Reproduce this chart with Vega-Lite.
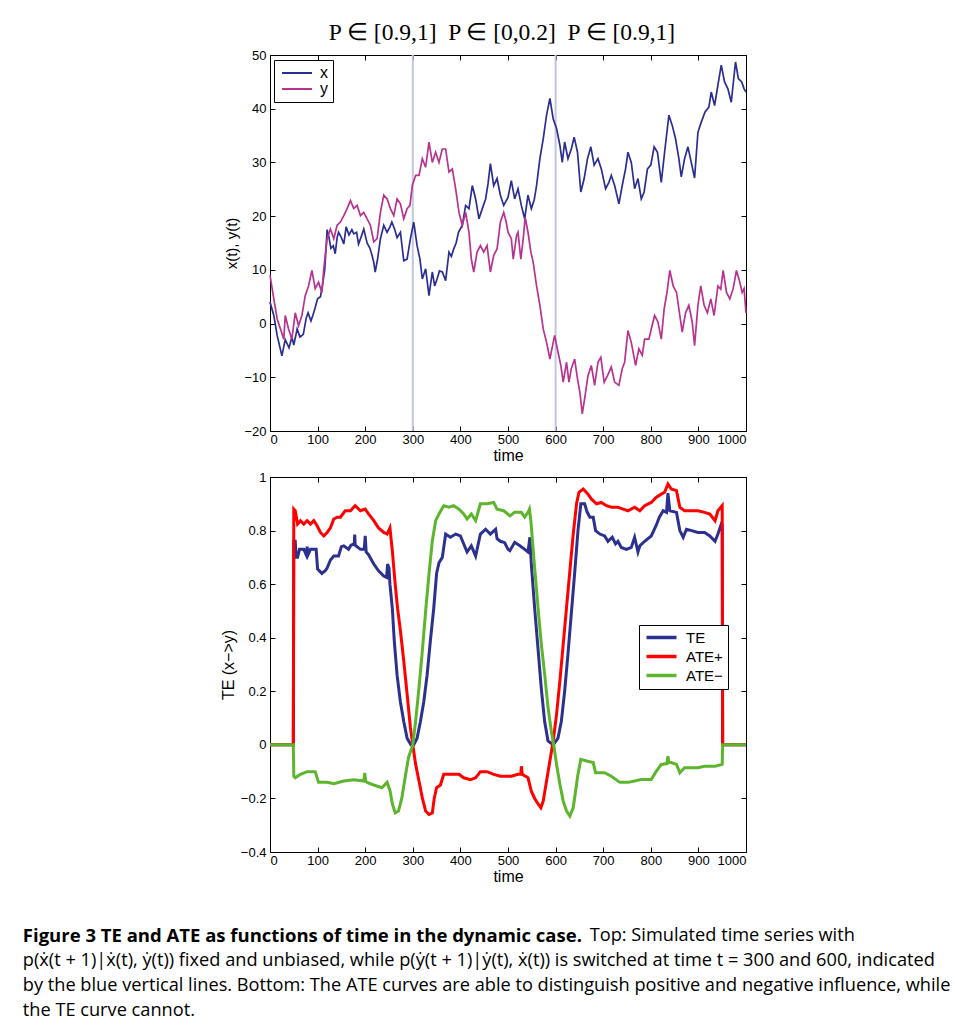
{
  "$schema": "https://vega.github.io/schema/vega-lite/v6.json",
  "background": "white",
  "padding": {"left": 22, "top": 20, "right": 5, "bottom": 5},
  "config": {
    "view": {"stroke": "black", "strokeWidth": 1},
    "axis": {
      "grid": false, "domain": false,
      "tickColor": "black", "tickSize": -5, "tickWidth": 1,
      "labelColor": "black", "labelFont": "Liberation Sans", "labelFontSize": 13, "labelPadding": 9,
      "titleFont": "Liberation Sans", "titleFontWeight": "normal", "titleColor": "black", "titleFontSize": 16
    },
    "legend": {
      "orient": "none", "title": null, "strokeColor": "black", "fillColor": "white",
      "symbolType": "M-1,0H5", "symbolSize": 100, "labelOffset": 24, "rowPadding": 0,
      "labelFont": "Liberation Sans", "labelColor": "black", "labelFontSize": 16
    }
  },
  "resolve": {"scale": {"color": "independent"}, "legend": {"color": "independent"}},
  "datasets": {
    "switches": [{"time": 300}, {"time": 600}],
    "walk": [
      {"time":0,"series":"x","value":4},{"time":8,"series":"x","value":1.5},{"time":15,"series":"x","value":-2.2},{"time":25,"series":"x","value":-6},{"time":32,"series":"x","value":-3},{"time":40,"series":"x","value":-4.5},{"time":46,"series":"x","value":-2.5},{"time":50,"series":"x","value":-4},{"time":57,"series":"x","value":-1},{"time":63,"series":"x","value":-2.5},{"time":70,"series":"x","value":-2},{"time":76,"series":"x","value":1},{"time":80,"series":"x","value":2},{"time":86,"series":"x","value":0.5},{"time":90,"series":"x","value":1.5},{"time":95,"series":"x","value":3},{"time":100,"series":"x","value":4.6},{"time":106,"series":"x","value":5},{"time":110,"series":"x","value":7},{"time":115,"series":"x","value":10},{"time":120,"series":"x","value":17.5},{"time":124,"series":"x","value":16},{"time":128,"series":"x","value":14},{"time":133,"series":"x","value":14.5},{"time":137,"series":"x","value":13},{"time":141,"series":"x","value":16},{"time":144,"series":"x","value":17},{"time":150,"series":"x","value":16},{"time":155,"series":"x","value":14.8},{"time":160,"series":"x","value":18},{"time":166,"series":"x","value":16.5},{"time":172,"series":"x","value":17.5},{"time":176,"series":"x","value":16.7},{"time":182,"series":"x","value":17},{"time":186,"series":"x","value":14.8},{"time":191,"series":"x","value":16},{"time":197,"series":"x","value":17.6},{"time":204,"series":"x","value":15},{"time":210,"series":"x","value":14},{"time":215,"series":"x","value":12.5},{"time":218,"series":"x","value":11.4},{"time":221,"series":"x","value":9.6},{"time":226,"series":"x","value":12},{"time":232,"series":"x","value":15.8},{"time":239,"series":"x","value":18.3},{"time":246,"series":"x","value":17},{"time":252,"series":"x","value":18},{"time":256,"series":"x","value":18.9},{"time":262,"series":"x","value":17.5},{"time":267,"series":"x","value":16},{"time":274,"series":"x","value":17},{"time":281,"series":"x","value":11.7},{"time":288,"series":"x","value":12},{"time":295,"series":"x","value":15.8},{"time":302,"series":"x","value":18.9},{"time":309,"series":"x","value":14.5},{"time":315,"series":"x","value":12},{"time":320,"series":"x","value":8.3},{"time":327,"series":"x","value":10.2},{"time":334,"series":"x","value":5.2},{"time":341,"series":"x","value":9.6},{"time":346,"series":"x","value":7},{"time":351,"series":"x","value":8.3},{"time":356,"series":"x","value":9.8},{"time":362,"series":"x","value":9.6},{"time":369,"series":"x","value":8},{"time":376,"series":"x","value":13.3},{"time":381,"series":"x","value":12.5},{"time":386,"series":"x","value":13.9},{"time":391,"series":"x","value":15},{"time":396,"series":"x","value":17},{"time":404,"series":"x","value":18.3},{"time":411,"series":"x","value":22},{"time":418,"series":"x","value":21.4},{"time":425,"series":"x","value":25.7},{"time":432,"series":"x","value":23.2},{"time":439,"series":"x","value":19.5},{"time":446,"series":"x","value":21.4},{"time":453,"series":"x","value":23.2},{"time":458,"series":"x","value":26},{"time":463,"series":"x","value":29.8},{"time":470,"series":"x","value":25.7},{"time":477,"series":"x","value":27},{"time":484,"series":"x","value":23.9},{"time":491,"series":"x","value":22},{"time":500,"series":"x","value":23.5},{"time":507,"series":"x","value":26.6},{"time":514,"series":"x","value":23.2},{"time":521,"series":"x","value":25.1},{"time":528,"series":"x","value":22},{"time":535,"series":"x","value":19.5},{"time":542,"series":"x","value":23.9},{"time":549,"series":"x","value":21.4},{"time":555,"series":"x","value":23},{"time":560,"series":"x","value":25.7},{"time":567,"series":"x","value":30.7},{"time":574,"series":"x","value":34.4},{"time":581,"series":"x","value":38.8},{"time":588,"series":"x","value":41.9},{"time":595,"series":"x","value":38.1},{"time":602,"series":"x","value":36.3},{"time":609,"series":"x","value":33.2},{"time":614,"series":"x","value":30},{"time":619,"series":"x","value":33.8},{"time":626,"series":"x","value":30.7},{"time":633,"series":"x","value":32.5},{"time":639,"series":"x","value":34.7},{"time":646,"series":"x","value":31.9},{"time":653,"series":"x","value":24.5},{"time":660,"series":"x","value":27},{"time":667,"series":"x","value":30.7},{"time":674,"series":"x","value":32.9},{"time":681,"series":"x","value":29.5},{"time":689,"series":"x","value":30.7},{"time":696,"series":"x","value":28.8},{"time":705,"series":"x","value":25.1},{"time":712,"series":"x","value":26.3},{"time":717,"series":"x","value":27.6},{"time":724,"series":"x","value":25.7},{"time":733,"series":"x","value":22.3},{"time":740,"series":"x","value":25.7},{"time":747,"series":"x","value":28.8},{"time":752,"series":"x","value":31.9},{"time":759,"series":"x","value":30},{"time":766,"series":"x","value":25.1},{"time":773,"series":"x","value":27},{"time":780,"series":"x","value":23.2},{"time":786,"series":"x","value":24.5},{"time":793,"series":"x","value":28.8},{"time":800,"series":"x","value":29.5},{"time":807,"series":"x","value":32.9},{"time":814,"series":"x","value":31.9},{"time":822,"series":"x","value":26.3},{"time":829,"series":"x","value":31.9},{"time":838,"series":"x","value":38.8},{"time":845,"series":"x","value":36.9},{"time":852,"series":"x","value":34.4},{"time":859,"series":"x","value":30.7},{"time":864,"series":"x","value":27.3},{"time":871,"series":"x","value":30.7},{"time":878,"series":"x","value":32.9},{"time":885,"series":"x","value":30},{"time":892,"series":"x","value":27.1},{"time":899,"series":"x","value":35.6},{"time":906,"series":"x","value":37.5},{"time":914,"series":"x","value":39.4},{"time":922,"series":"x","value":40.3},{"time":927,"series":"x","value":43.1},{"time":934,"series":"x","value":40.6},{"time":941,"series":"x","value":44.4},{"time":948,"series":"x","value":48.1},{"time":955,"series":"x","value":45},{"time":962,"series":"x","value":43.7},{"time":969,"series":"x","value":41.2},{"time":978,"series":"x","value":48.7},{"time":984,"series":"x","value":45.6},{"time":991,"series":"x","value":45},{"time":996,"series":"x","value":43.7},{"time":1000,"series":"x","value":43.1},
      {"time":0,"series":"y","value":9},{"time":8,"series":"y","value":4.6},{"time":15,"series":"y","value":0.9},{"time":22,"series":"y","value":-1},{"time":29,"series":"y","value":-2.9},{"time":32,"series":"y","value":1.5},{"time":39,"series":"y","value":-1},{"time":46,"series":"y","value":-2.9},{"time":53,"series":"y","value":2},{"time":60,"series":"y","value":-0.4},{"time":67,"series":"y","value":1.5},{"time":74,"series":"y","value":5.2},{"time":81,"series":"y","value":7},{"time":88,"series":"y","value":9.9},{"time":95,"series":"y","value":6.5},{"time":102,"series":"y","value":7.7},{"time":109,"series":"y","value":5.8},{"time":113,"series":"y","value":10.2},{"time":120,"series":"y","value":15.8},{"time":127,"series":"y","value":17.6},{"time":134,"series":"y","value":15.8},{"time":141,"series":"y","value":18.3},{"time":148,"series":"y","value":18.9},{"time":155,"series":"y","value":20.1},{"time":162,"series":"y","value":21.4},{"time":169,"series":"y","value":22.9},{"time":176,"series":"y","value":21.4},{"time":183,"series":"y","value":22},{"time":190,"series":"y","value":20.1},{"time":197,"series":"y","value":20.7},{"time":204,"series":"y","value":19.5},{"time":211,"series":"y","value":18.3},{"time":218,"series":"y","value":15.2},{"time":225,"series":"y","value":15.8},{"time":232,"series":"y","value":20.7},{"time":239,"series":"y","value":23.9},{"time":246,"series":"y","value":23.2},{"time":253,"series":"y","value":21.4},{"time":260,"series":"y","value":20.1},{"time":267,"series":"y","value":23.2},{"time":274,"series":"y","value":22.3},{"time":281,"series":"y","value":19.5},{"time":288,"series":"y","value":21.4},{"time":294,"series":"y","value":22},{"time":299,"series":"y","value":25.7},{"time":306,"series":"y","value":27.6},{"time":313,"series":"y","value":27.6},{"time":320,"series":"y","value":30.7},{"time":327,"series":"y","value":29.1},{"time":334,"series":"y","value":33.8},{"time":341,"series":"y","value":30},{"time":348,"series":"y","value":31.9},{"time":355,"series":"y","value":30},{"time":362,"series":"y","value":32.5},{"time":369,"series":"y","value":32.5},{"time":376,"series":"y","value":28.2},{"time":383,"series":"y","value":28.8},{"time":390,"series":"y","value":25.1},{"time":397,"series":"y","value":20.7},{"time":404,"series":"y","value":18.3},{"time":411,"series":"y","value":20.7},{"time":418,"series":"y","value":17},{"time":423,"series":"y","value":12},{"time":428,"series":"y","value":9.6},{"time":435,"series":"y","value":13.3},{"time":442,"series":"y","value":14.5},{"time":449,"series":"y","value":13.3},{"time":456,"series":"y","value":14.5},{"time":463,"series":"y","value":9.6},{"time":470,"series":"y","value":12.7},{"time":477,"series":"y","value":13.9},{"time":484,"series":"y","value":18.9},{"time":491,"series":"y","value":20.7},{"time":496,"series":"y","value":19},{"time":500,"series":"y","value":17},{"time":507,"series":"y","value":15.8},{"time":511,"series":"y","value":12},{"time":518,"series":"y","value":16.4},{"time":521,"series":"y","value":17},{"time":527,"series":"y","value":12},{"time":532,"series":"y","value":15.8},{"time":536,"series":"y","value":19.8},{"time":542,"series":"y","value":17},{"time":548,"series":"y","value":13.3},{"time":553,"series":"y","value":11.4},{"time":560,"series":"y","value":7},{"time":567,"series":"y","value":3.4},{"time":574,"series":"y","value":-1},{"time":581,"series":"y","value":-3.5},{"time":588,"series":"y","value":-6.6},{"time":595,"series":"y","value":-3.5},{"time":598,"series":"y","value":-2.2},{"time":605,"series":"y","value":-5.3},{"time":611,"series":"y","value":-7.8},{"time":616,"series":"y","value":-10.9},{"time":623,"series":"y","value":-7.2},{"time":628,"series":"y","value":-10.9},{"time":633,"series":"y","value":-8.4},{"time":640,"series":"y","value":-6.6},{"time":646,"series":"y","value":-10.3},{"time":651,"series":"y","value":-12.8},{"time":656,"series":"y","value":-16.8},{"time":661,"series":"y","value":-14},{"time":668,"series":"y","value":-9.7},{"time":675,"series":"y","value":-7.8},{"time":682,"series":"y","value":-11.5},{"time":689,"series":"y","value":-7.2},{"time":695,"series":"y","value":-6.3},{"time":702,"series":"y","value":-10.9},{"time":709,"series":"y","value":-9.7},{"time":717,"series":"y","value":-8.1},{"time":724,"series":"y","value":-10.9},{"time":733,"series":"y","value":-11.5},{"time":740,"series":"y","value":-8.4},{"time":745,"series":"y","value":-7.2},{"time":752,"series":"y","value":-1.3},{"time":759,"series":"y","value":-3.5},{"time":768,"series":"y","value":-7.8},{"time":775,"series":"y","value":-4.7},{"time":782,"series":"y","value":-5.9},{"time":787,"series":"y","value":-2.9},{"time":796,"series":"y","value":-2.9},{"time":801,"series":"y","value":-1},{"time":808,"series":"y","value":1.5},{"time":815,"series":"y","value":0.3},{"time":822,"series":"y","value":-2.9},{"time":828,"series":"y","value":2.7},{"time":834,"series":"y","value":5.8},{"time":840,"series":"y","value":9.9},{"time":847,"series":"y","value":7},{"time":854,"series":"y","value":5.8},{"time":861,"series":"y","value":1.5},{"time":866,"series":"y","value":-1.6},{"time":873,"series":"y","value":2},{"time":880,"series":"y","value":3.4},{"time":887,"series":"y","value":0.3},{"time":892,"series":"y","value":-4.1},{"time":899,"series":"y","value":3.4},{"time":905,"series":"y","value":7},{"time":912,"series":"y","value":3.4},{"time":919,"series":"y","value":2},{"time":926,"series":"y","value":4.6},{"time":933,"series":"y","value":1.5},{"time":941,"series":"y","value":7},{"time":947,"series":"y","value":6.4},{"time":952,"series":"y","value":9.9},{"time":959,"series":"y","value":5.8},{"time":966,"series":"y","value":4.6},{"time":973,"series":"y","value":6.5},{"time":980,"series":"y","value":9.9},{"time":987,"series":"y","value":7.7},{"time":992,"series":"y","value":5.8},{"time":996,"series":"y","value":6.5},{"time":1000,"series":"y","value":2}
    ],
    "te": [
      {"time":0,"curve":"TE","value":0},{"time":49,"curve":"TE","value":0},{"time":50,"curve":"TE","value":0.76},{"time":53,"curve":"TE","value":0.76},{"time":55,"curve":"TE","value":0.7},{"time":58,"curve":"TE","value":0.7},{"time":62,"curve":"TE","value":0.73},{"time":71,"curve":"TE","value":0.73},{"time":76,"curve":"TE","value":0.71},{"time":78,"curve":"TE","value":0.74},{"time":80,"curve":"TE","value":0.71},{"time":85,"curve":"TE","value":0.73},{"time":97,"curve":"TE","value":0.73},{"time":100,"curve":"TE","value":0.656},{"time":109,"curve":"TE","value":0.64},{"time":116,"curve":"TE","value":0.65},{"time":120,"curve":"TE","value":0.66},{"time":127,"curve":"TE","value":0.69},{"time":134,"curve":"TE","value":0.705},{"time":144,"curve":"TE","value":0.705},{"time":150,"curve":"TE","value":0.74},{"time":155,"curve":"TE","value":0.743},{"time":165,"curve":"TE","value":0.73},{"time":170,"curve":"TE","value":0.745},{"time":177,"curve":"TE","value":0.75},{"time":178,"curve":"TE","value":0.785},{"time":179,"curve":"TE","value":0.745},{"time":190,"curve":"TE","value":0.73},{"time":198,"curve":"TE","value":0.73},{"time":200,"curve":"TE","value":0.78},{"time":202,"curve":"TE","value":0.72},{"time":207,"curve":"TE","value":0.71},{"time":218,"curve":"TE","value":0.675},{"time":228,"curve":"TE","value":0.65},{"time":239,"curve":"TE","value":0.63},{"time":245,"curve":"TE","value":0.625},{"time":247,"curve":"TE","value":0.675},{"time":250,"curve":"TE","value":0.66},{"time":252,"curve":"TE","value":0.6},{"time":257,"curve":"TE","value":0.51},{"time":261,"curve":"TE","value":0.39},{"time":267,"curve":"TE","value":0.26},{"time":274,"curve":"TE","value":0.16},{"time":281,"curve":"TE","value":0.087},{"time":288,"curve":"TE","value":0.025},{"time":296,"curve":"TE","value":0},{"time":302,"curve":"TE","value":0},{"time":309,"curve":"TE","value":0.025},{"time":316,"curve":"TE","value":0.087},{"time":323,"curve":"TE","value":0.16},{"time":330,"curve":"TE","value":0.26},{"time":337,"curve":"TE","value":0.39},{"time":344,"curve":"TE","value":0.51},{"time":350,"curve":"TE","value":0.64},{"time":355,"curve":"TE","value":0.68},{"time":362,"curve":"TE","value":0.7},{"time":369,"curve":"TE","value":0.787},{"time":379,"curve":"TE","value":0.775},{"time":390,"curve":"TE","value":0.787},{"time":400,"curve":"TE","value":0.78},{"time":407,"curve":"TE","value":0.75},{"time":414,"curve":"TE","value":0.72},{"time":423,"curve":"TE","value":0.743},{"time":432,"curve":"TE","value":0.705},{"time":442,"curve":"TE","value":0.787},{"time":453,"curve":"TE","value":0.805},{"time":463,"curve":"TE","value":0.787},{"time":474,"curve":"TE","value":0.805},{"time":477,"curve":"TE","value":0.77},{"time":484,"curve":"TE","value":0.76},{"time":493,"curve":"TE","value":0.755},{"time":500,"curve":"TE","value":0.73},{"time":504,"curve":"TE","value":0.725},{"time":514,"curve":"TE","value":0.756},{"time":525,"curve":"TE","value":0.743},{"time":535,"curve":"TE","value":0.73},{"time":542,"curve":"TE","value":0.72},{"time":546,"curve":"TE","value":0.775},{"time":549,"curve":"TE","value":0.675},{"time":556,"curve":"TE","value":0.51},{"time":563,"curve":"TE","value":0.36},{"time":570,"curve":"TE","value":0.21},{"time":577,"curve":"TE","value":0.087},{"time":584,"curve":"TE","value":0.015},{"time":595,"curve":"TE","value":0},{"time":605,"curve":"TE","value":0.025},{"time":612,"curve":"TE","value":0.087},{"time":619,"curve":"TE","value":0.2},{"time":626,"curve":"TE","value":0.34},{"time":633,"curve":"TE","value":0.49},{"time":640,"curve":"TE","value":0.64},{"time":647,"curve":"TE","value":0.8},{"time":653,"curve":"TE","value":0.9},{"time":661,"curve":"TE","value":0.9},{"time":666,"curve":"TE","value":0.87},{"time":672,"curve":"TE","value":0.85},{"time":679,"curve":"TE","value":0.85},{"time":684,"curve":"TE","value":0.8},{"time":693,"curve":"TE","value":0.787},{"time":703,"curve":"TE","value":0.78},{"time":710,"curve":"TE","value":0.76},{"time":719,"curve":"TE","value":0.775},{"time":726,"curve":"TE","value":0.75},{"time":731,"curve":"TE","value":0.76},{"time":738,"curve":"TE","value":0.737},{"time":749,"curve":"TE","value":0.73},{"time":759,"curve":"TE","value":0.737},{"time":766,"curve":"TE","value":0.775},{"time":773,"curve":"TE","value":0.72},{"time":777,"curve":"TE","value":0.743},{"time":787,"curve":"TE","value":0.76},{"time":801,"curve":"TE","value":0.78},{"time":811,"curve":"TE","value":0.818},{"time":818,"curve":"TE","value":0.85},{"time":826,"curve":"TE","value":0.874},{"time":833,"curve":"TE","value":0.868},{"time":836,"curve":"TE","value":0.94},{"time":840,"curve":"TE","value":0.874},{"time":854,"curve":"TE","value":0.868},{"time":861,"curve":"TE","value":0.8},{"time":868,"curve":"TE","value":0.775},{"time":875,"curve":"TE","value":0.805},{"time":886,"curve":"TE","value":0.8},{"time":899,"curve":"TE","value":0.793},{"time":913,"curve":"TE","value":0.793},{"time":924,"curve":"TE","value":0.78},{"time":935,"curve":"TE","value":0.76},{"time":941,"curve":"TE","value":0.787},{"time":948,"curve":"TE","value":0.824},{"time":950,"curve":"TE","value":0.82},{"time":951,"curve":"TE","value":0},{"time":1000,"curve":"TE","value":0},
      {"time":0,"curve":"ATE+","value":0},{"time":49,"curve":"ATE+","value":0},{"time":50,"curve":"ATE+","value":0.88},{"time":53,"curve":"ATE+","value":0.874},{"time":58,"curve":"ATE+","value":0.824},{"time":64,"curve":"ATE+","value":0.837},{"time":71,"curve":"ATE+","value":0.824},{"time":78,"curve":"ATE+","value":0.837},{"time":85,"curve":"ATE+","value":0.824},{"time":92,"curve":"ATE+","value":0.837},{"time":99,"curve":"ATE+","value":0.818},{"time":106,"curve":"ATE+","value":0.793},{"time":113,"curve":"ATE+","value":0.78},{"time":120,"curve":"ATE+","value":0.793},{"time":127,"curve":"ATE+","value":0.81},{"time":134,"curve":"ATE+","value":0.843},{"time":141,"curve":"ATE+","value":0.85},{"time":148,"curve":"ATE+","value":0.85},{"time":158,"curve":"ATE+","value":0.874},{"time":169,"curve":"ATE+","value":0.874},{"time":179,"curve":"ATE+","value":0.893},{"time":190,"curve":"ATE+","value":0.874},{"time":200,"curve":"ATE+","value":0.88},{"time":207,"curve":"ATE+","value":0.862},{"time":218,"curve":"ATE+","value":0.837},{"time":228,"curve":"ATE+","value":0.81},{"time":239,"curve":"ATE+","value":0.793},{"time":246,"curve":"ATE+","value":0.787},{"time":252,"curve":"ATE+","value":0.81},{"time":257,"curve":"ATE+","value":0.724},{"time":263,"curve":"ATE+","value":0.6},{"time":268,"curve":"ATE+","value":0.51},{"time":274,"curve":"ATE+","value":0.426},{"time":281,"curve":"ATE+","value":0.313},{"time":288,"curve":"ATE+","value":0.19},{"time":295,"curve":"ATE+","value":0.064},{"time":300,"curve":"ATE+","value":0},{"time":306,"curve":"ATE+","value":-0.073},{"time":313,"curve":"ATE+","value":-0.135},{"time":320,"curve":"ATE+","value":-0.198},{"time":327,"curve":"ATE+","value":-0.247},{"time":334,"curve":"ATE+","value":-0.26},{"time":341,"curve":"ATE+","value":-0.254},{"time":345,"curve":"ATE+","value":-0.2},{"time":350,"curve":"ATE+","value":-0.16},{"time":358,"curve":"ATE+","value":-0.15},{"time":365,"curve":"ATE+","value":-0.11},{"time":376,"curve":"ATE+","value":-0.11},{"time":397,"curve":"ATE+","value":-0.11},{"time":407,"curve":"ATE+","value":-0.123},{"time":421,"curve":"ATE+","value":-0.13},{"time":432,"curve":"ATE+","value":-0.123},{"time":442,"curve":"ATE+","value":-0.1},{"time":456,"curve":"ATE+","value":-0.1},{"time":470,"curve":"ATE+","value":-0.11},{"time":484,"curve":"ATE+","value":-0.117},{"time":507,"curve":"ATE+","value":-0.117},{"time":521,"curve":"ATE+","value":-0.11},{"time":527,"curve":"ATE+","value":-0.11},{"time":528,"curve":"ATE+","value":-0.08},{"time":530,"curve":"ATE+","value":-0.11},{"time":542,"curve":"ATE+","value":-0.123},{"time":549,"curve":"ATE+","value":-0.173},{"time":556,"curve":"ATE+","value":-0.2},{"time":563,"curve":"ATE+","value":-0.22},{"time":569,"curve":"ATE+","value":-0.235},{"time":574,"curve":"ATE+","value":-0.21},{"time":581,"curve":"ATE+","value":-0.135},{"time":588,"curve":"ATE+","value":-0.06},{"time":595,"curve":"ATE+","value":0.015},{"time":602,"curve":"ATE+","value":0.114},{"time":609,"curve":"ATE+","value":0.239},{"time":616,"curve":"ATE+","value":0.376},{"time":623,"curve":"ATE+","value":0.513},{"time":630,"curve":"ATE+","value":0.65},{"time":637,"curve":"ATE+","value":0.787},{"time":644,"curve":"ATE+","value":0.9},{"time":649,"curve":"ATE+","value":0.943},{"time":658,"curve":"ATE+","value":0.955},{"time":668,"curve":"ATE+","value":0.936},{"time":675,"curve":"ATE+","value":0.918},{"time":686,"curve":"ATE+","value":0.9},{"time":696,"curve":"ATE+","value":0.905},{"time":707,"curve":"ATE+","value":0.893},{"time":717,"curve":"ATE+","value":0.887},{"time":731,"curve":"ATE+","value":0.887},{"time":742,"curve":"ATE+","value":0.88},{"time":752,"curve":"ATE+","value":0.874},{"time":766,"curve":"ATE+","value":0.887},{"time":777,"curve":"ATE+","value":0.874},{"time":787,"curve":"ATE+","value":0.893},{"time":801,"curve":"ATE+","value":0.905},{"time":811,"curve":"ATE+","value":0.924},{"time":822,"curve":"ATE+","value":0.936},{"time":829,"curve":"ATE+","value":0.943},{"time":836,"curve":"ATE+","value":0.974},{"time":843,"curve":"ATE+","value":0.955},{"time":854,"curve":"ATE+","value":0.949},{"time":861,"curve":"ATE+","value":0.887},{"time":871,"curve":"ATE+","value":0.874},{"time":886,"curve":"ATE+","value":0.874},{"time":899,"curve":"ATE+","value":0.874},{"time":913,"curve":"ATE+","value":0.868},{"time":924,"curve":"ATE+","value":0.862},{"time":935,"curve":"ATE+","value":0.837},{"time":941,"curve":"ATE+","value":0.874},{"time":950,"curve":"ATE+","value":0.893},{"time":951,"curve":"ATE+","value":0},{"time":1000,"curve":"ATE+","value":0},
      {"time":0,"curve":"ATE−","value":0},{"time":49,"curve":"ATE−","value":0},{"time":50,"curve":"ATE−","value":-0.117},{"time":53,"curve":"ATE−","value":-0.123},{"time":64,"curve":"ATE−","value":-0.11},{"time":78,"curve":"ATE−","value":-0.1},{"time":95,"curve":"ATE−","value":-0.1},{"time":102,"curve":"ATE−","value":-0.14},{"time":120,"curve":"ATE−","value":-0.14},{"time":134,"curve":"ATE−","value":-0.145},{"time":155,"curve":"ATE−","value":-0.135},{"time":176,"curve":"ATE−","value":-0.13},{"time":197,"curve":"ATE−","value":-0.135},{"time":199,"curve":"ATE−","value":-0.105},{"time":201,"curve":"ATE−","value":-0.135},{"time":204,"curve":"ATE−","value":-0.14},{"time":218,"curve":"ATE−","value":-0.15},{"time":235,"curve":"ATE−","value":-0.16},{"time":246,"curve":"ATE−","value":-0.14},{"time":252,"curve":"ATE−","value":-0.17},{"time":257,"curve":"ATE−","value":-0.22},{"time":263,"curve":"ATE−","value":-0.254},{"time":270,"curve":"ATE−","value":-0.247},{"time":277,"curve":"ATE−","value":-0.198},{"time":285,"curve":"ATE−","value":-0.11},{"time":291,"curve":"ATE−","value":-0.047},{"time":300,"curve":"ATE−","value":0},{"time":306,"curve":"ATE−","value":0.09},{"time":313,"curve":"ATE−","value":0.214},{"time":320,"curve":"ATE−","value":0.35},{"time":327,"curve":"ATE−","value":0.5},{"time":334,"curve":"ATE−","value":0.637},{"time":341,"curve":"ATE−","value":0.762},{"time":348,"curve":"ATE−","value":0.837},{"time":355,"curve":"ATE−","value":0.862},{"time":365,"curve":"ATE−","value":0.893},{"time":376,"curve":"ATE−","value":0.887},{"time":386,"curve":"ATE−","value":0.893},{"time":397,"curve":"ATE−","value":0.88},{"time":407,"curve":"ATE−","value":0.862},{"time":414,"curve":"ATE−","value":0.843},{"time":423,"curve":"ATE−","value":0.862},{"time":432,"curve":"ATE−","value":0.837},{"time":442,"curve":"ATE−","value":0.9},{"time":456,"curve":"ATE−","value":0.9},{"time":470,"curve":"ATE−","value":0.905},{"time":477,"curve":"ATE−","value":0.88},{"time":491,"curve":"ATE−","value":0.874},{"time":504,"curve":"ATE−","value":0.855},{"time":514,"curve":"ATE−","value":0.868},{"time":528,"curve":"ATE−","value":0.868},{"time":535,"curve":"ATE−","value":0.85},{"time":542,"curve":"ATE−","value":0.868},{"time":545,"curve":"ATE−","value":0.88},{"time":548,"curve":"ATE−","value":0.837},{"time":556,"curve":"ATE−","value":0.662},{"time":563,"curve":"ATE−","value":0.513},{"time":570,"curve":"ATE−","value":0.376},{"time":577,"curve":"ATE−","value":0.264},{"time":584,"curve":"ATE−","value":0.14},{"time":591,"curve":"ATE−","value":0.052},{"time":596,"curve":"ATE−","value":0},{"time":602,"curve":"ATE−","value":-0.073},{"time":609,"curve":"ATE−","value":-0.147},{"time":616,"curve":"ATE−","value":-0.21},{"time":623,"curve":"ATE−","value":-0.247},{"time":630,"curve":"ATE−","value":-0.266},{"time":637,"curve":"ATE−","value":-0.235},{"time":642,"curve":"ATE−","value":-0.172},{"time":647,"curve":"ATE−","value":-0.11},{"time":653,"curve":"ATE−","value":-0.054},{"time":665,"curve":"ATE−","value":-0.06},{"time":679,"curve":"ATE−","value":-0.066},{"time":684,"curve":"ATE−","value":-0.104},{"time":703,"curve":"ATE−","value":-0.104},{"time":717,"curve":"ATE−","value":-0.117},{"time":735,"curve":"ATE−","value":-0.14},{"time":752,"curve":"ATE−","value":-0.14},{"time":766,"curve":"ATE−","value":-0.135},{"time":780,"curve":"ATE−","value":-0.129},{"time":801,"curve":"ATE−","value":-0.129},{"time":811,"curve":"ATE−","value":-0.1},{"time":822,"curve":"ATE−","value":-0.073},{"time":834,"curve":"ATE−","value":-0.07},{"time":836,"curve":"ATE−","value":-0.042},{"time":838,"curve":"ATE−","value":-0.066},{"time":843,"curve":"ATE−","value":-0.066},{"time":854,"curve":"ATE−","value":-0.073},{"time":861,"curve":"ATE−","value":-0.104},{"time":871,"curve":"ATE−","value":-0.085},{"time":899,"curve":"ATE−","value":-0.085},{"time":913,"curve":"ATE−","value":-0.08},{"time":935,"curve":"ATE−","value":-0.08},{"time":950,"curve":"ATE−","value":-0.073},{"time":951,"curve":"ATE−","value":0},{"time":1000,"curve":"ATE−","value":0}
    ]
  },
  "title": {
    "text": "Figure 3  TE and ATE as functions of time in the dynamic case.",
    "subtitle": [
      "\u200b\u00a0\u00a0\u00a0\u00a0\u00a0\u00a0\u00a0\u00a0\u00a0\u00a0\u00a0\u00a0\u00a0\u00a0\u00a0\u00a0\u00a0\u00a0\u00a0\u00a0\u00a0\u00a0\u00a0\u00a0\u00a0\u00a0\u00a0\u00a0\u00a0\u00a0\u00a0\u00a0\u00a0\u00a0\u00a0\u00a0\u00a0\u00a0\u00a0\u00a0\u00a0\u00a0\u00a0\u00a0\u00a0\u00a0\u00a0\u00a0\u00a0\u00a0\u00a0\u00a0\u00a0\u00a0\u00a0\u00a0\u00a0\u00a0\u00a0\u00a0\u00a0\u00a0\u00a0\u00a0\u00a0\u00a0\u00a0\u00a0\u00a0\u00a0\u00a0\u00a0\u00a0\u00a0\u00a0\u00a0\u00a0\u00a0\u00a0\u00a0\u00a0\u00a0\u00a0\u00a0\u00a0\u00a0\u00a0\u00a0\u00a0\u00a0\u00a0\u00a0\u00a0\u00a0\u00a0\u00a0\u00a0\u00a0\u00a0\u00a0\u00a0\u00a0\u00a0\u00a0\u00a0\u00a0\u00a0\u00a0\u00a0\u00a0\u00a0\u00a0\u00a0\u00a0\u00a0\u00a0\u00a0\u00a0\u00a0\u00a0Top: Simulated time series with",
      "p(ẋ(t + 1)|ẋ(t), ẏ(t)) fixed and unbiased, while p(ẏ(t + 1)|ẏ(t), ẋ(t)) is switched at time t = 300 and 600, indicated",
      "by the blue vertical lines. Bottom: The ATE curves are able to distinguish positive and negative influence, while",
      "the TE curve cannot."
    ],
    "orient": "bottom", "anchor": "start", "frame": "bounds", "dx": -197, "offset": 42,
    "font": "Open Sans", "fontSize": 18.5, "fontWeight": "bold", "color": "black", "lineHeight": 25,
    "subtitleFont": "Open Sans", "subtitleFontSize": 18.2, "subtitleColor": "black", "subtitleLineHeight": 25, "subtitlePadding": -18.5
  },
  "spacing": 6,
  "vconcat": [
    {
      "title": {"text": "P ∈ [0.9,1]\u00a0\u00a0P ∈ [0,0.2]\u00a0\u00a0P ∈ [0.9,1]", "font": "Liberation Serif", "fontSize": 23.5, "fontWeight": "normal", "color": "black", "offset": 5, "dx": -6},
      "width": 476, "height": 376,
      "layer": [
        {
          "data": {"name": "switches"},
          "mark": {"type": "rule", "color": "#C3C6E3", "strokeWidth": 2},
          "encoding": {
            "x": {"field": "time", "type": "quantitative", "scale": {"domain": [0, 1000], "nice": false},
                  "axis": {"orient": "top", "labels": false, "title": null, "values": [0,100,200,300,400,500,600,700,800,900,1000]}},
            "y": {"datum": -20, "type": "quantitative", "scale": {"domain": [-20, 50], "nice": false},
                  "axis": {"orient": "right", "labels": false, "title": null, "values": [-20,-10,0,10,20,30,40,50]}},
            "y2": {"datum": 50}
          }
        },
        {
          "data": {"name": "walk"},
          "mark": {"type": "line", "strokeWidth": 1.7},
          "encoding": {
            "x": {"field": "time", "type": "quantitative", "axis": {"title": "time", "titlePadding": 1, "labelPadding": 7, "format": "d", "values": [0,100,200,300,400,500,600,700,800,900,1000]}},
            "y": {"field": "value", "type": "quantitative", "axis": {"title": "x(t), y(t)", "titleFontSize": 15, "values": [-20,-10,0,10,20,30,40,50]}},
            "color": {"field": "series", "type": "nominal", "scale": {"domain": ["x", "y"], "range": ["#2A2E91", "#B7338F"]},
                      "legend": {"legendX": 4, "legendY": 5, "padding": 5, "symbolStrokeWidth": 2, "labelOffset": 25}}
          }
        }
      ],
      "resolve": {"axis": {"x": "independent", "y": "independent"}}
    },
    {
      "width": 476, "height": 375,
      "layer": [
        {
          "data": {"values": []},
          "mark": {"type": "point"},
          "encoding": {
            "x": {"field": "time", "type": "quantitative", "scale": {"domain": [0, 1000], "nice": false},
                  "axis": {"orient": "top", "labels": false, "title": null, "values": [0,100,200,300,400,500,600,700,800,900,1000]}},
            "y": {"field": "value", "type": "quantitative", "scale": {"domain": [-0.4, 1], "nice": false},
                  "axis": {"orient": "right", "labels": false, "title": null, "values": [-0.4,-0.2,0,0.2,0.4,0.6,0.8,1]}}
          }
        },
        {
          "data": {"name": "te"},
          "mark": {"type": "line", "strokeWidth": 3},
          "encoding": {
            "x": {"field": "time", "type": "quantitative", "axis": {"title": "time", "titlePadding": 1, "labelPadding": 7, "format": "d", "values": [0,100,200,300,400,500,600,700,800,900,1000]}},
            "y": {"field": "value", "type": "quantitative", "axis": {"title": "TE (x−>y)", "format": "~g", "values": [-0.4,-0.2,0,0.2,0.4,0.6,0.8,1]}},
            "color": {"field": "curve", "type": "nominal", "scale": {"domain": ["TE", "ATE+", "ATE−"], "range": ["#2C3190", "#FF0000", "#5DB52E"]},
                      "legend": {"legendX": 369, "legendY": 148, "padding": 5, "symbolStrokeWidth": 3.5, "labelFontSize": 15, "rowPadding": 3, "labelOffset": 27}}
          }
        }
      ],
      "resolve": {"axis": {"x": "independent", "y": "independent"}}
    }
  ]
}
